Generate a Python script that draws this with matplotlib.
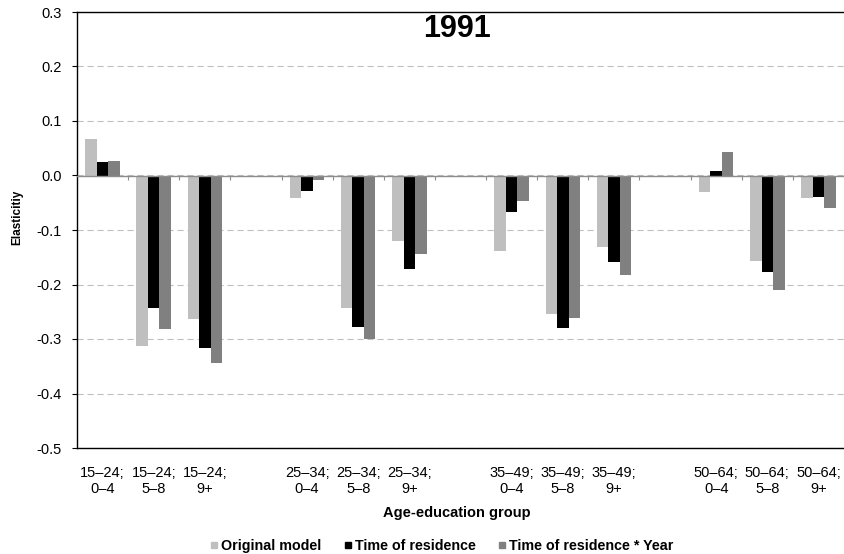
import numpy as np
import matplotlib
matplotlib.use("Agg")
import matplotlib.pyplot as plt
from matplotlib.lines import Line2D
from matplotlib.markers import TICKDOWN
from matplotlib.ticker import FormatStrFormatter, MultipleLocator

plt.rcParams["font.family"] = ["Liberation Sans", "DejaVu Sans"]
plt.rcParams["axes.unicode_minus"] = False

groups = ["15–24;\n0–4", "15–24;\n5–8", "15–24;\n9+",
          "25–34;\n0–4", "25–34;\n5–8", "25–34;\n9+",
          "35–49;\n0–4", "35–49;\n5–8", "35–49;\n9+",
          "50–64;\n0–4", "50–64;\n5–8", "50–64;\n9+"]
original = [0.067, -0.312, -0.263, -0.042, -0.243, -0.120,
            -0.138, -0.255, -0.131, -0.031, -0.156, -0.042]
residence = [0.024, -0.243, -0.317, -0.029, -0.278, -0.171,
             -0.067, -0.279, -0.159, 0.009, -0.177, -0.039]
residence_year = [0.027, -0.281, -0.344, -0.008, -0.300, -0.144,
                  -0.047, -0.261, -0.182, 0.044, -0.210, -0.059]
series_names = ["Original model", "Time of residence", "Time of residence * Year"]
colors = ["#BFBFBF", "#000000", "#808080"]

# one empty slot between age groups
pos = np.array([i + i // 3 for i in range(len(groups))])
w = 0.225

fig = plt.figure(figsize=(8.44, 5.54), dpi=100)
ax = fig.add_axes([77 / 844, 1 - 448 / 554, 767 / 844, 436 / 554])

for k, vals in enumerate([original, residence, residence_year]):
    ax.bar(pos + (k - 1) * w, vals, width=w, color=colors[k], zorder=2)

ax.set_xlim(-0.5, 14.5)
ax.set_ylim(-0.5, 0.3)
ax.yaxis.set_major_locator(MultipleLocator(0.1))
ax.yaxis.set_major_formatter(FormatStrFormatter("%.1f"))
ax.yaxis.grid(True, color="#BFBFBF", lw=0.8, ls=(0, (5.5, 3.5)), zorder=0)
ax.axhline(0, color="#8C8C8C", lw=1.0, zorder=3)

# small tick marks on the zero line between category slots
bounds = np.arange(0.5, 14.5, 1.0)
ax.plot(bounds, np.zeros_like(bounds), ls="none", marker=TICKDOWN, ms=3,
        mew=0.8, color="#8C8C8C", zorder=3)

ax.set_xticks(pos)
ax.set_xticklabels(groups, fontsize=10.5, linespacing=1.15)
ax.tick_params(axis="x", length=0, pad=13)
ax.tick_params(axis="y", length=3.6, width=0.8, pad=7.5, labelsize=10.5)

for s in ["left", "top", "bottom"]:
    ax.spines[s].set_color("#000000")
    ax.spines[s].set_linewidth(1.0)
ax.spines["right"].set_visible(False)

ax.text(0.495, 0.96, "1991", transform=ax.transAxes, ha="center", va="center",
        fontsize=22, fontweight="bold")

fig.text(457 / 844, 1 - 512.5 / 554, "Age-education group", ha="center", va="center",
         fontsize=10.5, fontweight="bold")
fig.text(17 / 844, 1 - 217 / 554, "Elasticitiy", ha="center", va="center",
         rotation=90, fontsize=8.5, fontweight="bold")

handles = [Line2D([], [], ls="none", marker="s", markersize=4.5, color=c) for c in colors]
fig.legend(handles, series_names, loc="center", bbox_to_anchor=(442 / 844, 1 - 546 / 554),
           ncol=3, frameon=False, handlelength=0.5, handletextpad=0.25, columnspacing=1.6,
           prop={"size": 10.3, "weight": "bold"}, borderpad=0)

fig.savefig("out.png", dpi=100)
